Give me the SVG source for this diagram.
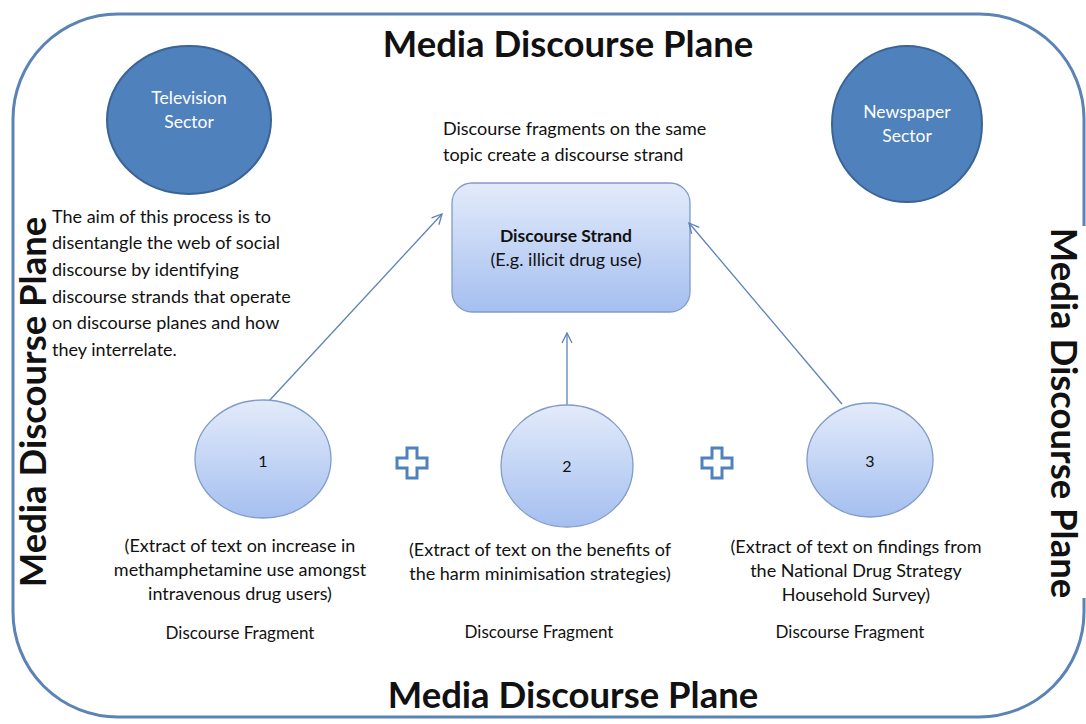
<svg xmlns="http://www.w3.org/2000/svg" width="1086" height="724" viewBox="0 0 1086 724">
<defs>
<linearGradient id="lb" x1="0" y1="0" x2="0" y2="1">
<stop offset="0" stop-color="#e3ebfa"/>
<stop offset="1" stop-color="#a5bff0"/>
</linearGradient>
<marker id="ah" viewBox="0 0 12 12" refX="11" refY="6" markerWidth="12" markerHeight="12" markerUnits="userSpaceOnUse" orient="auto">
<path d="M1,1 L11,6 L1,11" fill="none" stroke="#5b82b8" stroke-width="1.3"/>
</marker>
</defs>
<style>
text{font-family:Lato,"Liberation Sans",sans-serif;fill:#111}
.title{font-size:36.5px;font-weight:bold;text-anchor:middle}
.sec{font-size:17.5px;fill:#fff;text-anchor:middle}
.body{font-size:18px}
.mid{text-anchor:middle}
.num{font-size:16px;text-anchor:middle}
.frag{font-size:17px;text-anchor:middle}
.sector{fill:#4f81bd;stroke:#3a6496;stroke-width:2}
.light{fill:url(#lb);stroke:#7f9cc9;stroke-width:1.3}
.conn{stroke:#5b82b8;stroke-width:1.3;fill:none;marker-end:url(#ah)}
.plus{fill:#fff;stroke:#4f81bd;stroke-width:3}
</style>
<rect width="1086" height="724" fill="#fff"/>
<g id="frame">
<rect x="13" y="14" width="1071" height="703" rx="105" ry="105" fill="none" stroke="#5b83b5" stroke-width="3"/>
<text class="title" x="568" y="57">Media Discourse Plane</text>
<text class="title" x="573" y="708">Media Discourse Plane</text>
<rect x="19" y="222" width="31" height="360" fill="#fff"/>
<text class="title" transform="translate(46,402) rotate(-90)">Media Discourse Plane</text>
<rect x="1048" y="226" width="38" height="372" fill="#fff"/>
<text class="title" transform="translate(1051,413) rotate(90)">Media Discourse Plane</text>
</g>
<g id="tv">
<ellipse class="sector" cx="189" cy="120" rx="82" ry="74"/>
<text class="sec" x="189" y="104">Television</text>
<text class="sec" x="189" y="128">Sector</text>
</g>
<g id="news">
<ellipse class="sector" cx="907" cy="124" rx="75" ry="78"/>
<text class="sec" x="907" y="118">Newspaper</text>
<text class="sec" x="907" y="142">Sector</text>
</g>
<g id="note-top">
<text class="body" x="443" y="135">Discourse fragments on the same</text>
<text class="body" x="443" y="161">topic create a discourse strand</text>
</g>
<g id="note-left">
<text class="body" x="52" y="223">The aim of this process is to</text>
<text class="body" x="52" y="249">disentangle the web of social</text>
<text class="body" x="52" y="276">discourse by identifying</text>
<text class="body" x="52" y="303">discourse strands that operate</text>
<text class="body" x="52" y="329">on discourse planes and how</text>
<text class="body" x="52" y="356">they interrelate.</text>
</g>
<g id="strand">
<rect class="light" x="452" y="183" width="238" height="129" rx="20" ry="20"/>
<text class="body mid" x="566" y="242" font-weight="bold" style="font-size:17.5px">Discourse Strand</text>
<text class="body mid" x="566" y="266">(E.g. illicit drug use)</text>
</g>
<g id="connectors">
<line class="conn" x1="269" y1="401" x2="442" y2="214"/>
<line class="conn" x1="567" y1="405" x2="567" y2="333"/>
<line class="conn" x1="842" y1="404" x2="689" y2="223"/>
</g>
<g id="frag1">
<ellipse class="light" cx="263" cy="459" rx="68" ry="59"/>
<text class="num" x="263" y="467">1</text>
<text class="body mid" x="240" y="552">(Extract of text on increase in</text>
<text class="body mid" x="240" y="576">methamphetamine use amongst</text>
<text class="body mid" x="240" y="600">intravenous drug users)</text>
<text class="frag" x="240" y="639">Discourse Fragment</text>
</g>
<g id="frag2">
<ellipse class="light" cx="567" cy="466" rx="66" ry="61"/>
<text class="num" x="567" y="472">2</text>
<text class="body mid" x="540" y="556">(Extract of text on the benefits of</text>
<text class="body mid" x="540" y="580">the harm minimisation strategies)</text>
<text class="frag" x="539" y="638">Discourse Fragment</text>
</g>
<g id="frag3">
<ellipse class="light" cx="870" cy="460" rx="63" ry="57"/>
<text class="num" x="870" y="467">3</text>
<text class="body mid" x="856" y="553">(Extract of text on findings from</text>
<text class="body mid" x="856" y="577">the National Drug Strategy</text>
<text class="body mid" x="856" y="601">Household Survey)</text>
<text class="frag" x="850" y="638">Discourse Fragment</text>
</g>
<g id="plus1">
<path class="plus" d="M407,448 h10 v10 h10 v10 h-10 v10 h-10 v-10 h-10 v-10 h10 z"/>
</g>
<g id="plus2">
<path class="plus" d="M712,448 h10 v10 h10 v10 h-10 v10 h-10 v-10 h-10 v-10 h10 z"/>
</g>
</svg>
